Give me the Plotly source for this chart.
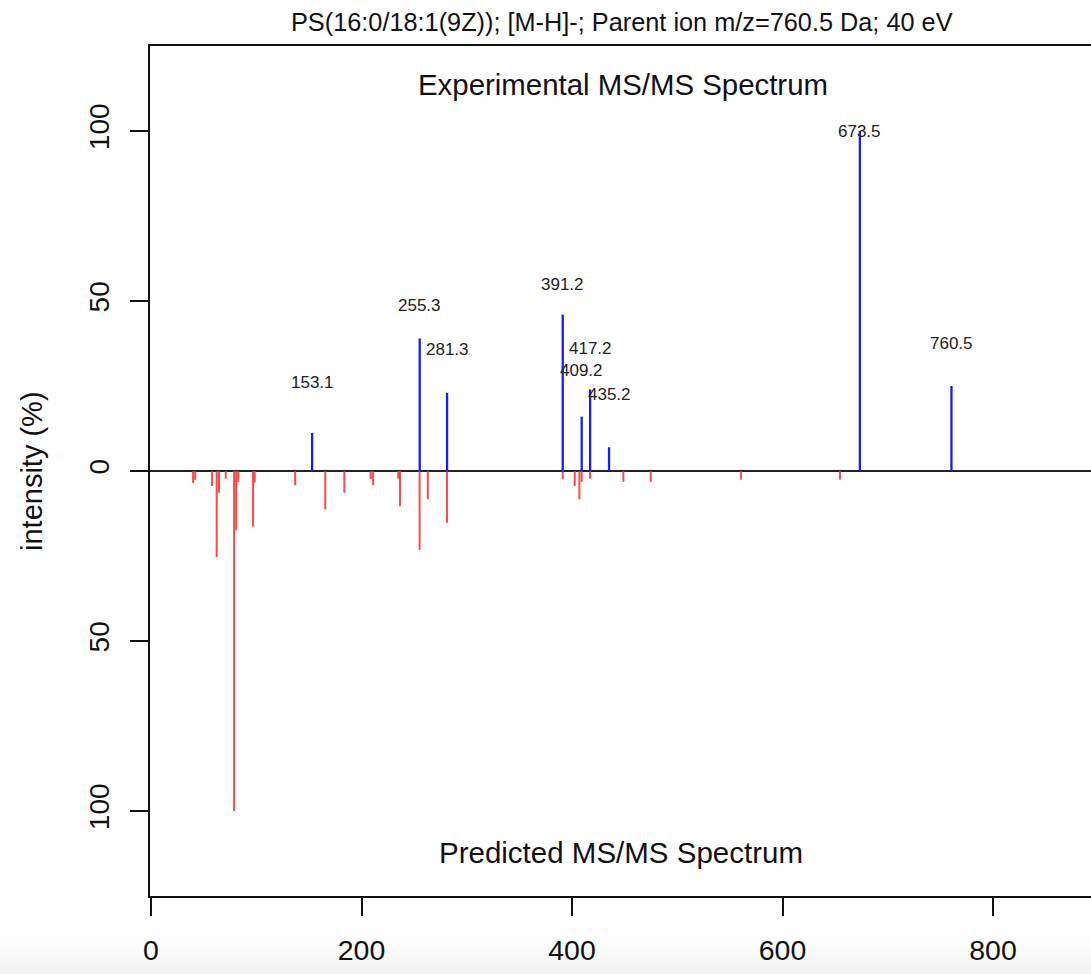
import plotly.graph_objects as go

# ---- data ----
exp_mz = [153.1, 255.3, 281.3, 391.2, 409.2, 417.2, 435.2, 673.5, 760.5]
exp_int = [11.2, 39.0, 23.0, 46.0, 16.0, 24.0, 7.0, 100.0, 25.0]
exp_labels = ["153.1", "255.3", "281.3", "391.2", "409.2", "417.2", "435.2", "673.5", "760.5"]
label_y = [25.9, 48.7, 35.6, 54.9, 29.7, 35.9, 22.4, 99.8, 37.4]

pred_mz = [40.0, 42.0, 58.0, 62.4, 64.6, 71.0, 78.96, 80.97, 83.0, 96.97, 98.5,
           137.0, 165.6, 183.7, 208.7, 211.0, 235.0, 236.6, 255.2, 263.0, 281.2,
           391.2, 402.6, 407.0, 409.2, 417.2, 448.8, 474.8, 560.6, 654.6]
pred_int = [3.5, 2.6, 4.4, 25.3, 6.4, 2.3, 100.0, 17.4, 3.2, 16.4, 3.4,
            4.2, 11.3, 6.4, 2.4, 4.2, 2.3, 10.3, 23.2, 8.3, 15.2,
            2.4, 4.4, 8.3, 3.2, 2.3, 3.2, 3.2, 2.5, 2.5]

x_ticks = [0, 200, 400, 600, 800]
y_tickvals = [-100, -50, 0, 50, 100]
y_ticktext = ["100", "50", "0", "50", "100"]

title_text = "PS(16:0/18:1(9Z)); [M-H]-; Parent ion m/z=760.5 Da; 40 eV"
top_text = "Experimental MS/MS Spectrum"
bottom_text = "Predicted MS/MS Spectrum"
y_title = "intensity (%)"


def stems(xs, ys, sign):
    sx, sy = [], []
    for x, y in zip(xs, ys):
        sx += [x, x, None]
        sy += [0, sign * y, None]
    return sx, sy


FONT = "Liberation Sans, Arial, Helvetica, sans-serif"

fig = go.Figure()
px, py = stems(pred_mz, pred_int, -1)
fig.add_trace(go.Scatter(x=px, y=py, mode="lines",
                         line=dict(color="rgba(255,40,40,0.85)", width=2),
                         hoverinfo="skip", showlegend=False))
ex, ey = stems(exp_mz, exp_int, 1)
fig.add_trace(go.Scatter(x=ex, y=ey, mode="lines",
                         line=dict(color="#1a1aff", width=2.3),
                         hoverinfo="skip", showlegend=False))

annotations = []
for x, y, t in zip(exp_mz, label_y, exp_labels):
    annotations.append(dict(x=x, y=y, xref="x", yref="y", text=t, showarrow=False,
                            xanchor="center", yanchor="middle",
                            font=dict(family=FONT, size=17, color="#222")))
annotations.append(dict(x=0.5016, y=1.0282, xref="paper", yref="paper", text=title_text,
                        showarrow=False, xanchor="center", yanchor="middle",
                        font=dict(family=FONT, size=25.3, color="#111")))
annotations.append(dict(x=0.503, y=113.6, xref="paper", yref="y", text=top_text,
                        showarrow=False, xanchor="center", yanchor="middle",
                        font=dict(family=FONT, size=29.4, color="#111")))
annotations.append(dict(x=0.5, y=-112.3, xref="paper", yref="y", text=bottom_text,
                        showarrow=False, xanchor="center", yanchor="middle",
                        font=dict(family=FONT, size=29.5, color="#111")))
annotations.append(dict(x=-0.1254, y=0, xref="paper", yref="y", text=y_title,
                        showarrow=False, xanchor="center", yanchor="middle", textangle=-90,
                        font=dict(family=FONT, size=29, color="#111")))

# faint screenshot shading at the very bottom
shapes = []
for i, c in enumerate(["#fdfdfd", "#fafafa", "#f7f7f7", "#f4f4f4"]):
    y0 = -0.046 - i * 0.0115
    shapes.append(dict(type="rect", xref="paper", yref="paper", x0=-0.16, x1=1.0,
                       y0=y0 - 0.0115, y1=y0, fillcolor=c, line=dict(width=0),
                       layer="below"))

fig.update_layout(
    width=1091, height=974,
    margin=dict(l=150, r=0, t=46, b=78),
    paper_bgcolor="white", plot_bgcolor="white",
    annotations=annotations, shapes=shapes,
    font=dict(family=FONT, color="#111"),
    xaxis=dict(range=[-0.95, 893.1], tickvals=x_ticks, showgrid=False, zeroline=False,
               showline=True, linecolor="#111", linewidth=1.5, mirror=True,
               ticks="outside", ticklen=18, tickwidth=1.5, tickcolor="#111",
               tickfont=dict(family=FONT, size=28.5, color="#111"), ticklabelstandoff=10),
    yaxis=dict(range=[-125, 125], tickvals=y_tickvals, ticktext=y_ticktext,
               showgrid=False, zeroline=True, zerolinecolor="#222", zerolinewidth=2,
               showline=True, linecolor="#111", linewidth=1.5, mirror=False,
               ticks="outside", ticklen=18, tickwidth=1.5, tickcolor="#111", tickangle=-90,
               tickfont=dict(family=FONT, size=28, color="#111"), ticklabelstandoff=10),
)

fig.write_html("out.html")
